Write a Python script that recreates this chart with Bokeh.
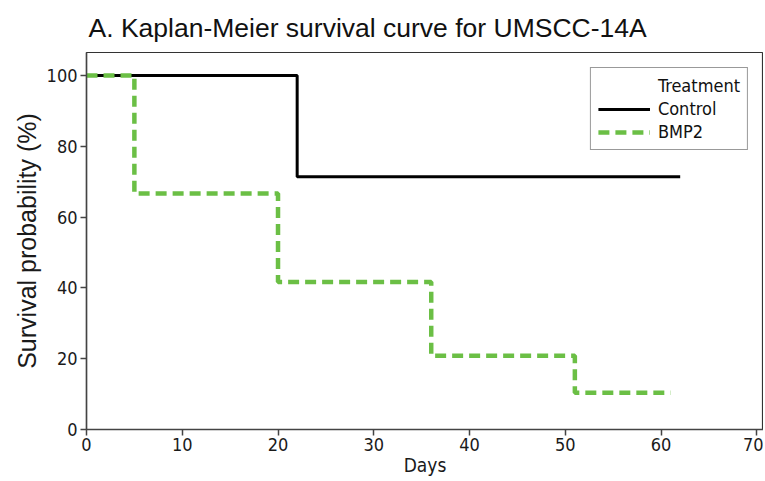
from bokeh.plotting import figure
from bokeh.models import Range1d, Legend, LegendItem, FixedTicker
from bokeh.embed import file_html
from bokeh.resources import INLINE

# Data
control_days = [0, 22, 62]
control_surv = [100, 71.4, 71.4]
bmp2_days = [0, 5, 20, 36, 51, 61]
bmp2_surv = [100, 66.7, 41.7, 20.8, 10.4, 10.4]
x_ticks = [0, 10, 20, 30, 40, 50, 60, 70]
y_ticks = [0, 20, 40, 60, 80, 100]
legend_title = "Treatment"
series_names = ["Control", "BMP2"]

p = figure(width=763, height=478, output_backend="svg", toolbar_location=None,
           x_range=Range1d(0, 70.7), y_range=Range1d(0, 106.5),
           min_border_left=86, min_border_right=0, min_border_top=52, min_border_bottom=48)

p.title.text = "A. Kaplan-Meier survival curve for UMSCC-14A"
p.title.text_font = "Liberation Sans"
p.title.text_font_size = "26.5px"
p.title.text_font_style = "normal"
p.title.text_color = "#111111"
p.title.offset = 2
p.title.standoff = 20

p.grid.visible = False
p.outline_line_color = "#333333"
p.outline_line_width = 1.2
p.background_fill_color = "white"
p.border_fill_color = "white"

for ax in (p.xaxis[0], p.yaxis[0]):
    ax.axis_line_color = "#444444"
    ax.axis_line_width = 1.5
    ax.major_tick_line_color = "#444444"
    ax.major_tick_line_width = 1.5
    ax.major_tick_out = 6
    ax.major_tick_in = 0
    ax.minor_tick_line_color = None
    ax.major_label_text_font = "DejaVu Sans Condensed"
    ax.major_label_text_font_size = "18px"
    ax.major_label_text_color = "#1a1a1a"

p.xaxis.ticker = FixedTicker(ticks=x_ticks)
p.yaxis.ticker = FixedTicker(ticks=y_ticks)
p.xaxis.axis_label = "Days"
p.xaxis.axis_label_text_font = "DejaVu Sans Condensed"
p.xaxis.axis_label_text_font_size = "19px"
p.xaxis.axis_label_text_font_style = "normal"
p.xaxis.axis_label_text_color = "#1a1a1a"
p.xaxis.axis_label_standoff = 0
p.xaxis.major_label_standoff = 2

p.yaxis.axis_label = "Survival probability (%)"
p.yaxis.axis_label_text_font = "Liberation Sans"
p.yaxis.axis_label_text_font_size = "25px"
p.yaxis.axis_label_text_font_style = "normal"
p.yaxis.axis_label_text_color = "#1a1a1a"
p.yaxis.axis_label_standoff = 3
p.yaxis.major_label_standoff = 3

r_ctrl = p.step(control_days, control_surv, mode="after", line_color="black", line_width=3)
r_bmp = p.step(bmp2_days, bmp2_surv, mode="after", line_color="#6BBF45", line_width=4.5,
               line_dash="11 6")
r_title = p.line([0], [0], line_alpha=0)

legend = Legend(items=[
    LegendItem(label=legend_title, renderers=[r_title]),
    LegendItem(label=series_names[0], renderers=[r_ctrl]),
    LegendItem(label=series_names[1], renderers=[r_bmp]),
], location="top_right")
legend.margin = 15
legend.padding = 7
legend.spacing = 2
legend.glyph_width = 52
legend.glyph_height = 20
legend.label_height = 20
legend.label_standoff = 8
legend.label_text_font = "DejaVu Sans Condensed"
legend.label_text_font_size = "18px"
legend.label_text_color = "#111111"
legend.border_line_color = "#333333"
legend.border_line_width = 1.5
legend.background_fill_alpha = 1
p.add_layout(legend)

open("out.html", "w").write(file_html(p, INLINE))
